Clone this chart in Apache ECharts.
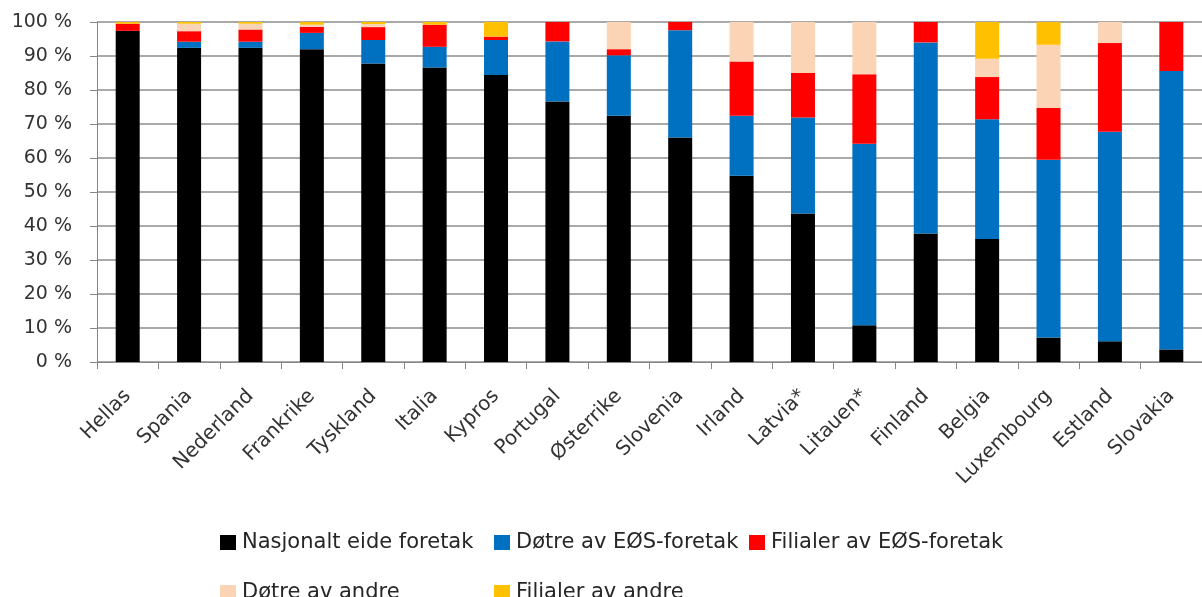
<!DOCTYPE html>
<html>
<head>
<meta charset="utf-8">
<title>Eierskap bankforetak</title>
<script src="https://cdn.jsdelivr.net/npm/echarts@6/dist/echarts.min.js"></script>
<style>
    html, body { margin: 0; padding: 0; background: #fff; }
    #chart { width: 1202px; height: 597px; }
</style>
</head>
<body>
<div id="chart"></div>
<script>
// land
var land = ['Hellas', 'Spania', 'Nederland', 'Frankrike', 'Tyskland', 'Italia', 'Kypros', 'Portugal', 'Østerrike',
    'Slovenia', 'Irland', 'Latvia*', 'Litauen*', 'Finland', 'Belgia', 'Luxembourg', 'Estland', 'Slovakia'];

// andeler i prosent
var nasjonalt = [97.4, 92.4, 92.4, 92.0, 87.8, 86.6, 84.4, 76.6, 72.4, 66.0, 54.8, 43.7, 10.8, 37.8, 36.2, 7.2, 6.1, 3.7];
var dotreEos = [0, 1.8, 1.8, 4.8, 6.9, 6.1, 10.3, 17.7, 17.8, 31.6, 17.6, 28.2, 53.4, 56.2, 35.2, 52.3, 61.6, 81.9];
var filialerEos = [2.1, 3.1, 3.6, 1.8, 3.8, 6.5, 1.0, 5.7, 1.8, 2.4, 16.0, 13.1, 20.4, 6.0, 12.4, 15.3, 26.1, 14.4];
var dotreAndre = [0, 2.2, 1.7, 0.6, 0.9, 0, 0, 0, 8.0, 0, 11.6, 15.0, 15.4, 0, 5.4, 18.5, 6.2, 0];
var filialerAndre = [0.5, 0.5, 0.5, 0.8, 0.6, 0.8, 4.3, 0, 0, 0, 0, 0, 0, 0, 10.8, 6.7, 0, 0];

var serieNavn = ['Nasjonalt eide foretak', 'Døtre av EØS-foretak', 'Filialer av EØS-foretak', 'Døtre av andre', 'Filialer av andre'];
var serieData = [nasjonalt, dotreEos, filialerEos, dotreAndre, filialerAndre];
var farger = ['#000000', '#0070C0', '#FF0000', '#FAD4B4', '#FFC000'];

// legend plassering (to rader)
var legendPos = [[220, 532], [494, 532], [749, 532], [220, 582], [494, 582]];

var chart = echarts.init(document.getElementById('chart'));

var series = [];
var legends = [];
for (var i = 0; i < serieNavn.length; i++) {
    series.push({
        name: serieNavn[i],
        type: 'bar',
        stack: 'total',
        barWidth: 24,
        itemStyle: { color: farger[i] },
        data: serieData[i]
    });
    legends.push({
        data: [serieNavn[i]],
        left: legendPos[i][0],
        top: legendPos[i][1],
        padding: 0,
        icon: 'rect',
        itemWidth: 16,
        itemHeight: 15,
        itemGap: 0,
        textStyle: {
            fontFamily: 'DejaVu Sans',
            fontSize: 21,
            color: '#262626',
            padding: [0, 0, 0, 1]
        }
    });
}

var option = {
    animation: false,
    backgroundColor: '#ffffff',
    grid: {
        left: 97,
        top: 22,
        width: 1113,
        height: 340
    },
    legend: legends,
    xAxis: {
        type: 'category',
        data: land,
        axisLine: { lineStyle: { color: '#868686', width: 1 } },
        axisTick: { show: true, length: 7, lineStyle: { color: '#868686' } },
        axisLabel: {
            rotate: 45,
            interval: 0,
            margin: 31,
            fontFamily: 'DejaVu Sans',
            fontSize: 20,
            color: '#333333'
        }
    },
    yAxis: {
        type: 'value',
        min: 0,
        max: 100,
        interval: 10,
        axisLine: { show: true, lineStyle: { color: '#868686', width: 1 } },
        axisTick: { show: true, length: 7, lineStyle: { color: '#868686' } },
        splitLine: { lineStyle: { color: '#8c8c8c', width: 1.5 } },
        axisLabel: {
            margin: 25,
            formatter: '{value} %',
            fontFamily: 'DejaVu Sans',
            fontSize: 19,
            color: '#333333'
        }
    },
    series: series
};

chart.setOption(option);
</script>
</body>
</html>
